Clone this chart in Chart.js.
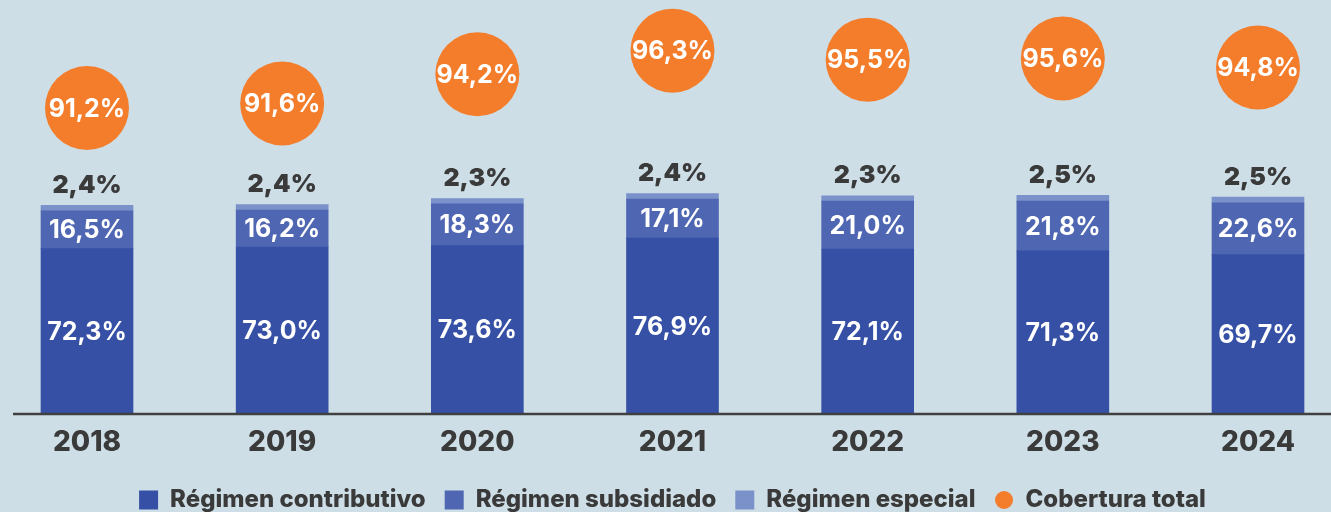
<!DOCTYPE html>
<html><head><meta charset="utf-8">
<script src="https://cdn.jsdelivr.net/npm/chart.js@4/dist/chart.umd.min.js"></script>
<style>
html,body{margin:0;padding:0;background:#cddee6;overflow:hidden;}
#wrap{width:1331px;height:512px;position:relative;}
canvas{display:block;}
</style>
</head><body><div id="wrap"><canvas id="c" width="1331" height="512"></canvas></div>
<script>
const years = ['2018','2019','2020','2021','2022','2023','2024'];
const contributivo = [72.3, 73.0, 73.6, 76.9, 72.1, 71.3, 69.7];
const subsidiado = [16.5, 16.2, 18.3, 17.1, 21.0, 21.8, 22.6];
const especial = [2.4, 2.4, 2.3, 2.4, 2.3, 2.5, 2.5];
const cobertura = [91.2, 91.6, 94.2, 96.3, 95.5, 95.6, 94.8];
const seriesNames = ['Régimen contributivo','Régimen subsidiado','Régimen especial','Cobertura total'];

const C_CONTRIB = '#3550a5';
const C_SUBSID = '#4f67b2';
const C_ESPEC = '#7a91c9';
const C_ORANGE = '#f47d2c';
const C_TEXT = '#3a3a3a';
const FONT = 'Inter, "Open Sans", "DejaVu Sans", sans-serif';

const fmt = v => v.toFixed(1).replace('.', ',') + '%';

const dot = document.createElement('canvas');
dot.width = 18; dot.height = 18;
{ const g = dot.getContext('2d'); g.fillStyle = C_ORANGE; g.beginPath(); g.arc(9, 9, 9, 0, Math.PI*2); g.fill(); }

const labelsPlugin = {
  id: 'valueLabels',
  afterDatasetsDraw(chart) {
    const ctx = chart.ctx;
    ctx.save();
    ctx.textAlign = 'center';
    ctx.textBaseline = 'middle';
    chart.data.datasets.forEach((ds, di) => {
      const meta = chart.getDatasetMeta(di);
      meta.data.forEach((el, i) => {
        const v = ds.data[i];
        if (di === 0 || di === 1) {
          ctx.fillStyle = '#ffffff';
          ctx.font = '700 25px ' + FONT;
          ctx.fillText(fmt(v), el.x, (el.y + el.base) / 2 + 1);
        } else if (di === 2) {
          ctx.fillStyle = C_TEXT;
          ctx.font = '900 25px ' + FONT;
          ctx.fillText(fmt(v), el.x, el.y - 20);
        } else if (di === 3) {
          ctx.fillStyle = '#ffffff';
          ctx.font = '700 25px ' + FONT;
          ctx.fillText(fmt(v), el.x, el.y + 1);
        }
      });
    });
    ctx.restore();
  }
};

const baselinePlugin = {
  id: 'baseline',
  afterDatasetsDraw(chart) {
    const ctx = chart.ctx;
    const y = chart.scales.y.getPixelForValue(0);
    ctx.save();
    ctx.strokeStyle = '#404040';
    ctx.lineWidth = 2.5;
    ctx.beginPath();
    ctx.moveTo(13, y);
    ctx.lineTo(chart.width, y);
    ctx.stroke();
    ctx.restore();
  }
};

new Chart(document.getElementById('c'), {
  type: 'bar',
  data: {
    labels: years,
    datasets: [
      { label: seriesNames[0], data: contributivo, backgroundColor: C_CONTRIB, pointStyle: 'rect', barThickness: 92, clip: false, stack: 's', yAxisID: 'y' },
      { label: seriesNames[1], data: subsidiado, backgroundColor: C_SUBSID, pointStyle: 'rect', barThickness: 92, clip: false, stack: 's', yAxisID: 'y' },
      { label: seriesNames[2], data: especial, backgroundColor: C_ESPEC, pointStyle: 'rect', barThickness: 92, clip: false, stack: 's', yAxisID: 'y' },
      { type: 'line', label: seriesNames[3], data: cobertura, yAxisID: 'y1', showLine: false,
        pointRadius: 42, pointHoverRadius: 42, pointStyle: 'circle', pointBackgroundColor: C_ORANGE,
        pointBorderWidth: 0, backgroundColor: C_ORANGE, borderColor: C_ORANGE, clip: false }
    ]
  },
  options: {
    responsive: false,
    animation: false,
    devicePixelRatio: 1,
    layout: { autoPadding: false, padding: { left: 87, right: 73, top: 0, bottom: -10 } },
    scales: {
      x: {
        stacked: true,
        offset: false,
        grid: { display: false },
        border: { display: false },
        ticks: { color: C_TEXT, font: { family: FONT, size: 28, weight: '800' }, padding: 4, maxRotation: 0 },
        afterFit(s) { s.height = 55; }
      },
      y: { stacked: true, display: false, min: 0, max: 181 },
      y1: { display: false, min: 64.0, max: 100.8 }
    },
    plugins: {
      tooltip: { enabled: false },
      legend: {
        position: 'bottom',
        labels: {
          usePointStyle: true,
          boxWidth: 19, boxHeight: 19,
          padding: 19,
          color: C_TEXT,
          font: { family: FONT, size: 24, weight: '800' },
          generateLabels(chart) {
            const items = Chart.defaults.plugins.legend.labels.generateLabels(chart);
            items.forEach(it => {
              if (it.datasetIndex === 3) { it.pointStyle = dot; }
              it.lineWidth = 0;
              it.strokeStyle = 'rgba(0,0,0,0)';
            });
            return items;
          }
        }
      }
    }
  },
  plugins: [labelsPlugin, baselinePlugin]
});
</script>
</body></html>
